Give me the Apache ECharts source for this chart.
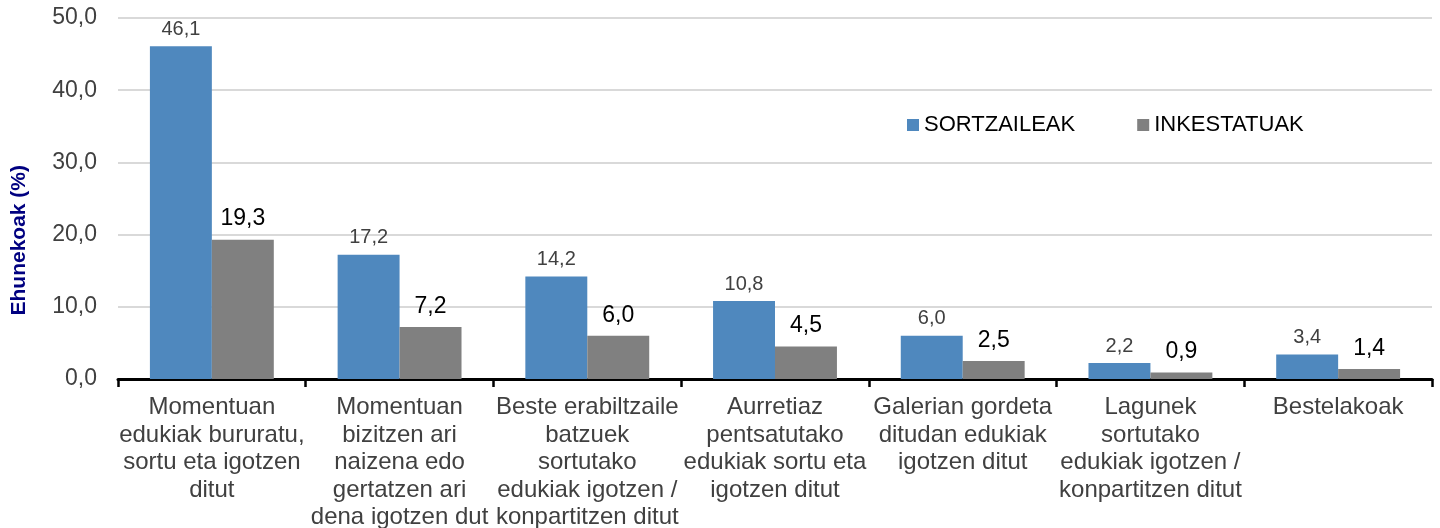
<!DOCTYPE html>
<html><head><meta charset="utf-8">
<script src="https://cdn.jsdelivr.net/npm/echarts@6/dist/echarts.min.js"></script>
<style>html,body{margin:0;padding:0;background:#fff}#c{width:1440px;height:528px}</style>
</head><body><div id="c"></div>
<script>
const categories = [
  "Momentuan\nedukiak bururatu,\nsortu eta igotzen\nditut",
  "Momentuan\nbizitzen ari\nnaizena edo\ngertatzen ari\ndena igotzen dut",
  "Beste erabiltzaile\nbatzuek\nsortutako\nedukiak igotzen /\nkonpartitzen ditut",
  "Aurretiaz\npentsatutako\nedukiak sortu eta\nigotzen ditut",
  "Galerian gordeta\nditudan edukiak\nigotzen ditut",
  "Lagunek\nsortutako\nedukiak igotzen /\nkonpartitzen ditut",
  "Bestelakoak"
];
const sortzaileak = [46.1, 17.2, 14.2, 10.8, 6.0, 2.2, 3.4];
const inkestatuak = [19.3, 7.2, 6.0, 4.5, 2.5, 0.9, 1.4];
const seriesNames = ["SORTZAILEAK", "INKESTATUAK"];
const yAxisTitle = "Ehunekoak (%)";

const fmt = v => (typeof v === 'number' ? v : v.value).toFixed(1).replace('.', ',');
const FONT = '"Liberation Sans", Arial, sans-serif';

const chart = echarts.init(document.getElementById('c'), null, {renderer: 'canvas'});
chart.setOption({
  animation: false,
  textStyle: {fontFamily: FONT},
  grid: {left: 118, right: 8, top: 18, bottom: 149, containLabel: false, outerBoundsMode: 'none'},
  legend: {
    data: seriesNames,
    left: 907, top: 114, padding: 0,
    itemWidth: 12, itemHeight: 12, itemGap: 62,
    icon: 'rect',
    textStyle: {fontSize: 22, color: '#000', fontFamily: FONT}
  },
  graphic: [{
    type: 'text',
    left: 9, top: 165,
    rotation: Math.PI / 2,
    style: {text: yAxisTitle, fill: '#000080', font: 'bold 21px ' + FONT}
  }],
  xAxis: {
    type: 'category',
    data: categories,
    axisLine: {lineStyle: {color: '#000', width: 3}},
    axisTick: {show: true, length: 8, lineStyle: {color: '#000', width: 2.5}},
    axisLabel: {interval: 0, fontSize: 24, color: '#404040', lineHeight: 27.5, margin: 15, fontFamily: FONT}
  },
  yAxis: {
    type: 'value', min: 0, max: 50, interval: 10,
    axisLine: {show: false}, axisTick: {show: false},
    splitLine: {lineStyle: {color: '#D9D9D9', width: 2}},
    axisLabel: {formatter: v => v.toFixed(1).replace('.', ','), fontSize: 23, color: '#404040', margin: 21, fontFamily: FONT}
  },
  series: [
    {
      name: seriesNames[0], type: 'bar', data: sortzaileak,
      barGap: '0%', barCategoryGap: '34%',
      itemStyle: {color: '#4F88BE'},
      label: {show: true, position: 'top', distance: 7, formatter: p => fmt(p.value), fontSize: 20, color: '#404040', fontFamily: FONT}
    },
    {
      name: seriesNames[1], type: 'bar', data: inkestatuak,
      itemStyle: {color: '#808080'},
      label: {show: true, position: 'top', distance: 9, formatter: p => fmt(p.value), fontSize: 23, color: '#000', fontFamily: FONT}
    }
  ]
});
</script></body></html>
